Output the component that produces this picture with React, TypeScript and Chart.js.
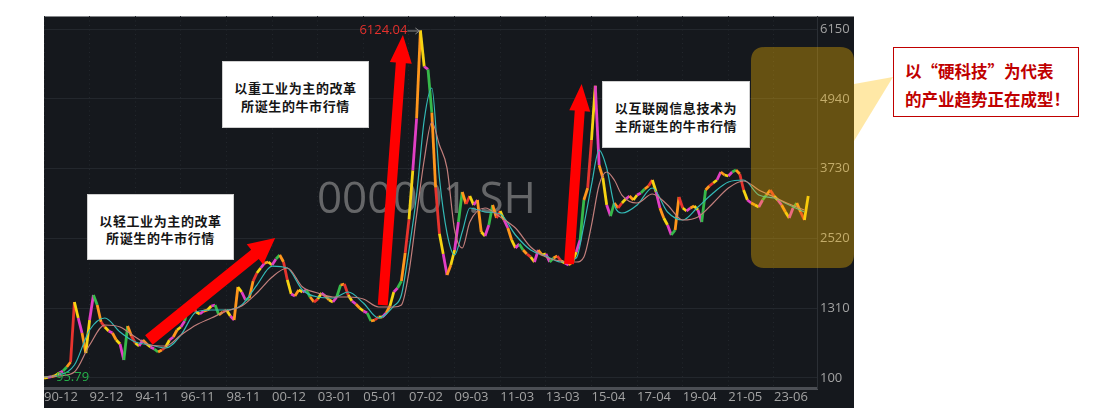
import React, { useEffect, useRef } from 'react';
import { Chart, registerables } from 'chart.js';

Chart.register(...registerables);

// ---------- data ----------
const xLabels = ['90-12', '92-12', '94-11', '96-11', '98-11', '00-12', '03-01', '05-01', '07-02', '09-03', '11-03', '13-03', '15-04', '17-04', '19-04', '21-05', '23-06'];
const samplesPerLabel = 12;
const yTicks = [100, 1310, 2520, 3730, 4940, 6150];

// index price, one sample per step (x = sample index)
const price = [
  96, 110, 125, 140, 187, 221, 291, 377, 1417, 1140,
  880, 533, 1105, 1539, 1365, 1071, 984, 915, 880, 759,
  689, 412, 1001, 828, 707, 655, 759, 689, 637, 603,
  551, 585, 637, 759, 811, 932, 984, 1088, 1365, 1400,
  1244, 1209, 1261, 1279, 1348, 1365, 1192, 1244, 1279, 1175,
  1105, 1677, 1591, 1452, 1487, 1781, 1920, 2007, 2093, 2111,
  2059, 2163, 2232, 2111, 1799, 1556, 1521, 1625, 1591, 1625,
  1504, 1417, 1469, 1573, 1521, 1452, 1417, 1504, 1712, 1729,
  1539, 1435, 1383, 1313, 1261, 1227, 1088, 1105, 1157, 1157,
  1227, 1348, 1591, 1660, 1781, 2270, 2850, 3700, 4600, 6124,
  5500, 5450, 4700, 3400, 2600, 2250, 1886, 2059, 2319, 2804,
  3324, 3116, 3255, 3099, 3186, 2631, 2562, 2752, 3099, 2874,
  2995, 2839, 2700, 2492, 2354, 2423, 2319, 2250, 2198, 2111,
  2319, 2232, 2250, 2111, 2180, 2215, 2128, 2093, 2059, 2111,
  2284, 2492, 3186, 3394, 4226, 5166, 3792, 3567, 3099, 2908,
  3134, 3047, 3134, 3203, 3255, 3186, 3272, 3307, 3376, 3428,
  3532, 3324, 3047, 2874, 2752, 2579, 2666, 3238, 3047, 2995,
  3047, 3082, 3012, 2804, 3359, 3428, 3480, 3532, 3671, 3619,
  3602, 3671, 3706, 3636, 3359, 3186, 3134, 3099, 3064, 3186,
  3272, 3359, 3255, 3186, 3099, 2978, 2874, 3047, 3134, 2978,
  2839, 3255,
];

// moving averages, sampled at these sample indices
const maIdx = [0, 4, 8, 12, 16, 20, 24, 28, 32, 36, 40, 44, 48, 52, 56, 60, 64, 68, 72, 76, 80, 84, 88, 92, 94, 96, 98, 100, 102, 104, 106, 108, 110, 112, 116, 120, 124, 128, 132, 136, 140, 142, 144, 146, 148, 150, 152, 156, 160, 164, 168, 172, 176, 180, 184, 188, 192, 196, 200];
const maMid = [117, 152, 325, 932, 1140, 897, 724, 672, 620, 845, 1244, 1279, 1279, 1365, 1712, 2041, 2007, 1625, 1504, 1487, 1591, 1400, 1140, 1348, 1539, 2319, 3272, 4572, 5127, 3567, 2613, 2232, 2631, 3047, 2978, 2943, 2579, 2319, 2215, 2111, 2180, 2752, 3446, 4052, 3740, 3099, 2960, 3099, 3394, 2978, 2839, 3064, 3307, 3498, 3532, 3272, 3220, 3099, 2978];
const maLong = [117, 135, 204, 672, 1019, 984, 811, 672, 655, 845, 1019, 1140, 1261, 1348, 1573, 1851, 2007, 1677, 1573, 1504, 1504, 1469, 1331, 1331, 1365, 1938, 2925, 3879, 4538, 4139, 3740, 2666, 2354, 2804, 3047, 2891, 2700, 2371, 2198, 2128, 2111, 2198, 2752, 3446, 3671, 3532, 3272, 3134, 3290, 3099, 2839, 2891, 3134, 3394, 3515, 3359, 3238, 3116, 3012];

const highMark = 6124.04;
const lowMark = 95.79;

// red trend arrows (sample index, index value)
const arrowTails = [[27.6, 759], [89.1, 1365], [138.1, 2076]];
const arrowTips = [[60.8, 2527], [94.4, 6046], [141.4, 5196]];

const noteBoxes = [
  { lines: ['以重工业为主的改革', '所诞生的牛市行情'], left: 222, top: 61, width: 147, height: 67 },
  { lines: ['以轻工业为主的改革', '所诞生的牛市行情'], left: 87, top: 194, width: 147, height: 66 },
  { lines: ['以互联网信息技术为', '主所诞生的牛市行情'], left: 602, top: 81, width: 148, height: 67 },
];
const calloutLines = ['以“硬科技”为代表', '的产业趋势正在成型！'];

// ---------- styles ----------
const BG = '#15181d';
const AXIS_TEXT = '#a3a3a3';
const palette = ['#f6d312', '#e23fc4', '#ff961c', '#f6d312', '#e23fc4', '#36b94a', '#ff961c', '#e8342e'];
const arrowStyle = [
  { shaft: 12, headW: 26, headL: 26 },
  { shaft: 10, headW: 22, headL: 28 },
  { shaft: 10, headW: 21, headL: 27 },
];

const bgPlugin = {
  id: 'bgPlugin',
  beforeDraw(chart: any) {
    const { ctx, width, height } = chart;
    ctx.save();
    ctx.fillStyle = BG;
    ctx.fillRect(0, 0, width, height);
    ctx.fillStyle = '#85878a';
    ctx.fillRect(0, 0, width, 1);
    ctx.restore();
  },
};

const watermarkPlugin = {
  id: 'watermarkPlugin',
  beforeDatasetsDraw(chart: any) {
    const { ctx, chartArea: a } = chart;
    ctx.save();
    ctx.font = '44px "Open Sans", "Noto Sans", sans-serif';
    ctx.fillStyle = 'rgba(150,150,150,0.62)';
    ctx.textAlign = 'center';
    ctx.textBaseline = 'middle';
    ctx.fillText('000001.SH', (a.left + a.right) / 2 - 4, (a.top + a.bottom) / 2 - 2);
    ctx.restore();
  },
};

const marksPlugin = {
  id: 'marksPlugin',
  afterDatasetsDraw(chart: any) {
    const { ctx } = chart;
    const xs = chart.scales.x;
    const ys = chart.scales.y;
    ctx.save();
    // trend arrows
    arrowTails.forEach((t, k) => {
      const st = arrowStyle[k];
      const x0 = xs.getPixelForValue(t[0]);
      const y0 = ys.getPixelForValue(t[1]);
      const x1 = xs.getPixelForValue(arrowTips[k][0]);
      const y1 = ys.getPixelForValue(arrowTips[k][1]);
      const len = Math.hypot(x1 - x0, y1 - y0);
      const ux = (x1 - x0) / len;
      const uy = (y1 - y0) / len;
      const nx = -uy;
      const ny = ux;
      const bx = x1 - ux * st.headL;
      const by = y1 - uy * st.headL;
      ctx.beginPath();
      ctx.moveTo(x0 + nx * st.shaft / 2, y0 + ny * st.shaft / 2);
      ctx.lineTo(bx + nx * st.shaft / 2, by + ny * st.shaft / 2);
      ctx.lineTo(bx + nx * st.headW / 2, by + ny * st.headW / 2);
      ctx.lineTo(x1, y1);
      ctx.lineTo(bx - nx * st.headW / 2, by - ny * st.headW / 2);
      ctx.lineTo(bx - nx * st.shaft / 2, by - ny * st.shaft / 2);
      ctx.lineTo(x0 - nx * st.shaft / 2, y0 - ny * st.shaft / 2);
      ctx.closePath();
      ctx.fillStyle = '#ff0000';
      ctx.fill();
    });
    // high / low marks
    let hi = 0;
    let lo = 0;
    price.forEach((v, i) => {
      if (v > price[hi]) hi = i;
      if (v < price[lo]) lo = i;
    });
    const hx = xs.getPixelForValue(hi);
    const hy = ys.getPixelForValue(highMark);
    ctx.font = '13px "Open Sans", "Noto Sans", sans-serif';
    ctx.textBaseline = 'middle';
    ctx.textAlign = 'right';
    ctx.fillStyle = '#e5302c';
    ctx.fillText(highMark.toFixed(2), hx - 13, hy);
    ctx.strokeStyle = '#8a8a8a';
    ctx.lineWidth = 1;
    ctx.beginPath();
    ctx.moveTo(hx - 13, hy + 0.5);
    ctx.lineTo(hx - 1, hy + 0.5);
    ctx.moveTo(hx - 5, hy - 2.5);
    ctx.lineTo(hx - 1, hy + 0.5);
    ctx.lineTo(hx - 5, hy + 3.5);
    ctx.stroke();
    const lx = xs.getPixelForValue(lo);
    const ly = ys.getPixelForValue(lowMark);
    ctx.textAlign = 'left';
    ctx.fillStyle = '#25b04a';
    ctx.fillText(lowMark.toFixed(2), lx + 12, ly - 1);
    ctx.restore();
  },
};

export default function App() {
  const ref = useRef<HTMLCanvasElement | null>(null);

  useEffect(() => {
    if (!ref.current) return;
    const axisFont = { family: '"Open Sans", "Noto Sans", sans-serif', size: 13 };
    const chart = new Chart(ref.current, {
      type: 'line',
      data: {
        datasets: [
          {
            label: 'MA long',
            data: maIdx.map((x, k) => ({ x, y: maLong[k] })),
            borderColor: '#c27f7c',
            borderWidth: 1.2,
            pointRadius: 0,
            cubicInterpolationMode: 'monotone',
          },
          {
            label: 'MA mid',
            data: maIdx.map((x, k) => ({ x, y: maMid[k] })),
            borderColor: '#33b9b6',
            borderWidth: 1.2,
            pointRadius: 0,
            cubicInterpolationMode: 'monotone',
          },
          {
            label: '000001.SH',
            data: price.map((y, i) => ({ x: i, y })),
            borderColor: palette[0],
            borderWidth: 2.8,
            pointRadius: 0,
            segment: { borderColor: (c: any) => palette[c.p0DataIndex % palette.length] },
          },
        ],
      } as any,
      options: {
        responsive: false,
        animation: false,
        devicePixelRatio: 1,
        layout: { padding: 0 },
        plugins: { legend: { display: false }, tooltip: { enabled: false } },
        scales: {
          x: {
            type: 'linear',
            min: 0,
            max: 203.31,
            afterBuildTicks: (s: any) => {
              s.ticks = xLabels.map((_, k) => ({ value: k * samplesPerLabel }));
            },
            afterFit: (s: any) => {
              s.height = 20;
              s.paddingLeft = 0;
              s.paddingRight = 0;
            },
            ticks: {
              autoSkip: false,
              maxRotation: 0,
              align: 'start',
              padding: 1,
              color: AXIS_TEXT,
              font: axisFont,
              callback: (_v: any, i: number) => xLabels[i],
            },
            grid: { color: '#23272d', drawTicks: false },
            border: { display: true, color: '#4b4e54', width: 3, dash: [1, 3.5] },
          },
          y: {
            type: 'linear',
            position: 'right',
            min: -73.4,
            max: 6375.4,
            afterBuildTicks: (s: any) => {
              s.ticks = yTicks.map((v) => ({ value: v }));
            },
            afterFit: (s: any) => {
              s.width = 37;
              s.paddingTop = 0;
              s.paddingBottom = 0;
            },
            ticks: {
              padding: 3,
              color: AXIS_TEXT,
              font: axisFont,
              callback: (v: any) => String(v),
            },
            grid: { color: '#23272d', drawTicks: false },
            border: { display: true, color: '#2b2f35' },
          },
        },
      } as any,
      plugins: [bgPlugin, watermarkPlugin, marksPlugin],
    });
    return () => chart.destroy();
  }, []);

  const cjk = '"Noto Sans CJK SC", "Noto Sans", sans-serif';
  const r = 14;
  const x0 = 751, y0 = 47, x1 = 854, y1 = 268;
  const calloutPath = `M ${x0 + r} ${y0} L ${x1 - r} ${y0} Q ${x1} ${y0} ${x1} ${y0 + r} L ${x1} 84 L 893 77 L ${x1} 141 L ${x1} ${y1 - r} Q ${x1} ${y1} ${x1 - r} ${y1} L ${x0 + r} ${y1} Q ${x0} ${y1} ${x0} ${y1 - r} L ${x0} ${y0 + r} Q ${x0} ${y0} ${x0 + r} ${y0} Z`;

  return (
    <div style={{ position: 'absolute', left: 0, top: 0, width: 1093, height: 408, background: '#fff', overflow: 'hidden' }}>
      <canvas ref={ref} width={810} height={392} style={{ position: 'absolute', left: 44, top: 16, width: 810, height: 392 }} />
      {noteBoxes.map((b, k) => (
        <div
          key={k}
          style={{
            position: 'absolute',
            left: b.left,
            top: b.top,
            width: b.width,
            height: b.height,
            boxSizing: 'border-box',
            background: '#fff',
            border: '1px solid #cfcfcf',
            display: 'flex',
            flexDirection: 'column',
            alignItems: 'center',
            justifyContent: 'center',
            paddingTop: 4,
            fontFamily: cjk,
            fontWeight: 700,
            fontSize: 13,
            letterSpacing: 0.6,
            lineHeight: '17.5px',
            color: '#151515',
          }}
        >
          {b.lines.map((t, i) => (
            <div key={i}>{t}</div>
          ))}
        </div>
      ))}
      <svg width={1093} height={408} style={{ position: 'absolute', left: 0, top: 0, pointerEvents: 'none' }}>
        <path d={calloutPath} fill="rgba(255,190,0,0.35)" />
      </svg>
      <div
        style={{
          position: 'absolute',
          left: 893,
          top: 47,
          width: 186,
          height: 70,
          boxSizing: 'border-box',
          border: '1.5px solid #c00000',
          background: '#fff',
          paddingLeft: 11,
          paddingTop: 9,
          fontFamily: cjk,
          fontWeight: 700,
          fontSize: 16.5,
          lineHeight: '28px',
          color: '#c00000',
          whiteSpace: 'nowrap',
        }}
      >
        {calloutLines.map((t, i) => (
          <div key={i}>{t}</div>
        ))}
      </div>
    </div>
  );
}
